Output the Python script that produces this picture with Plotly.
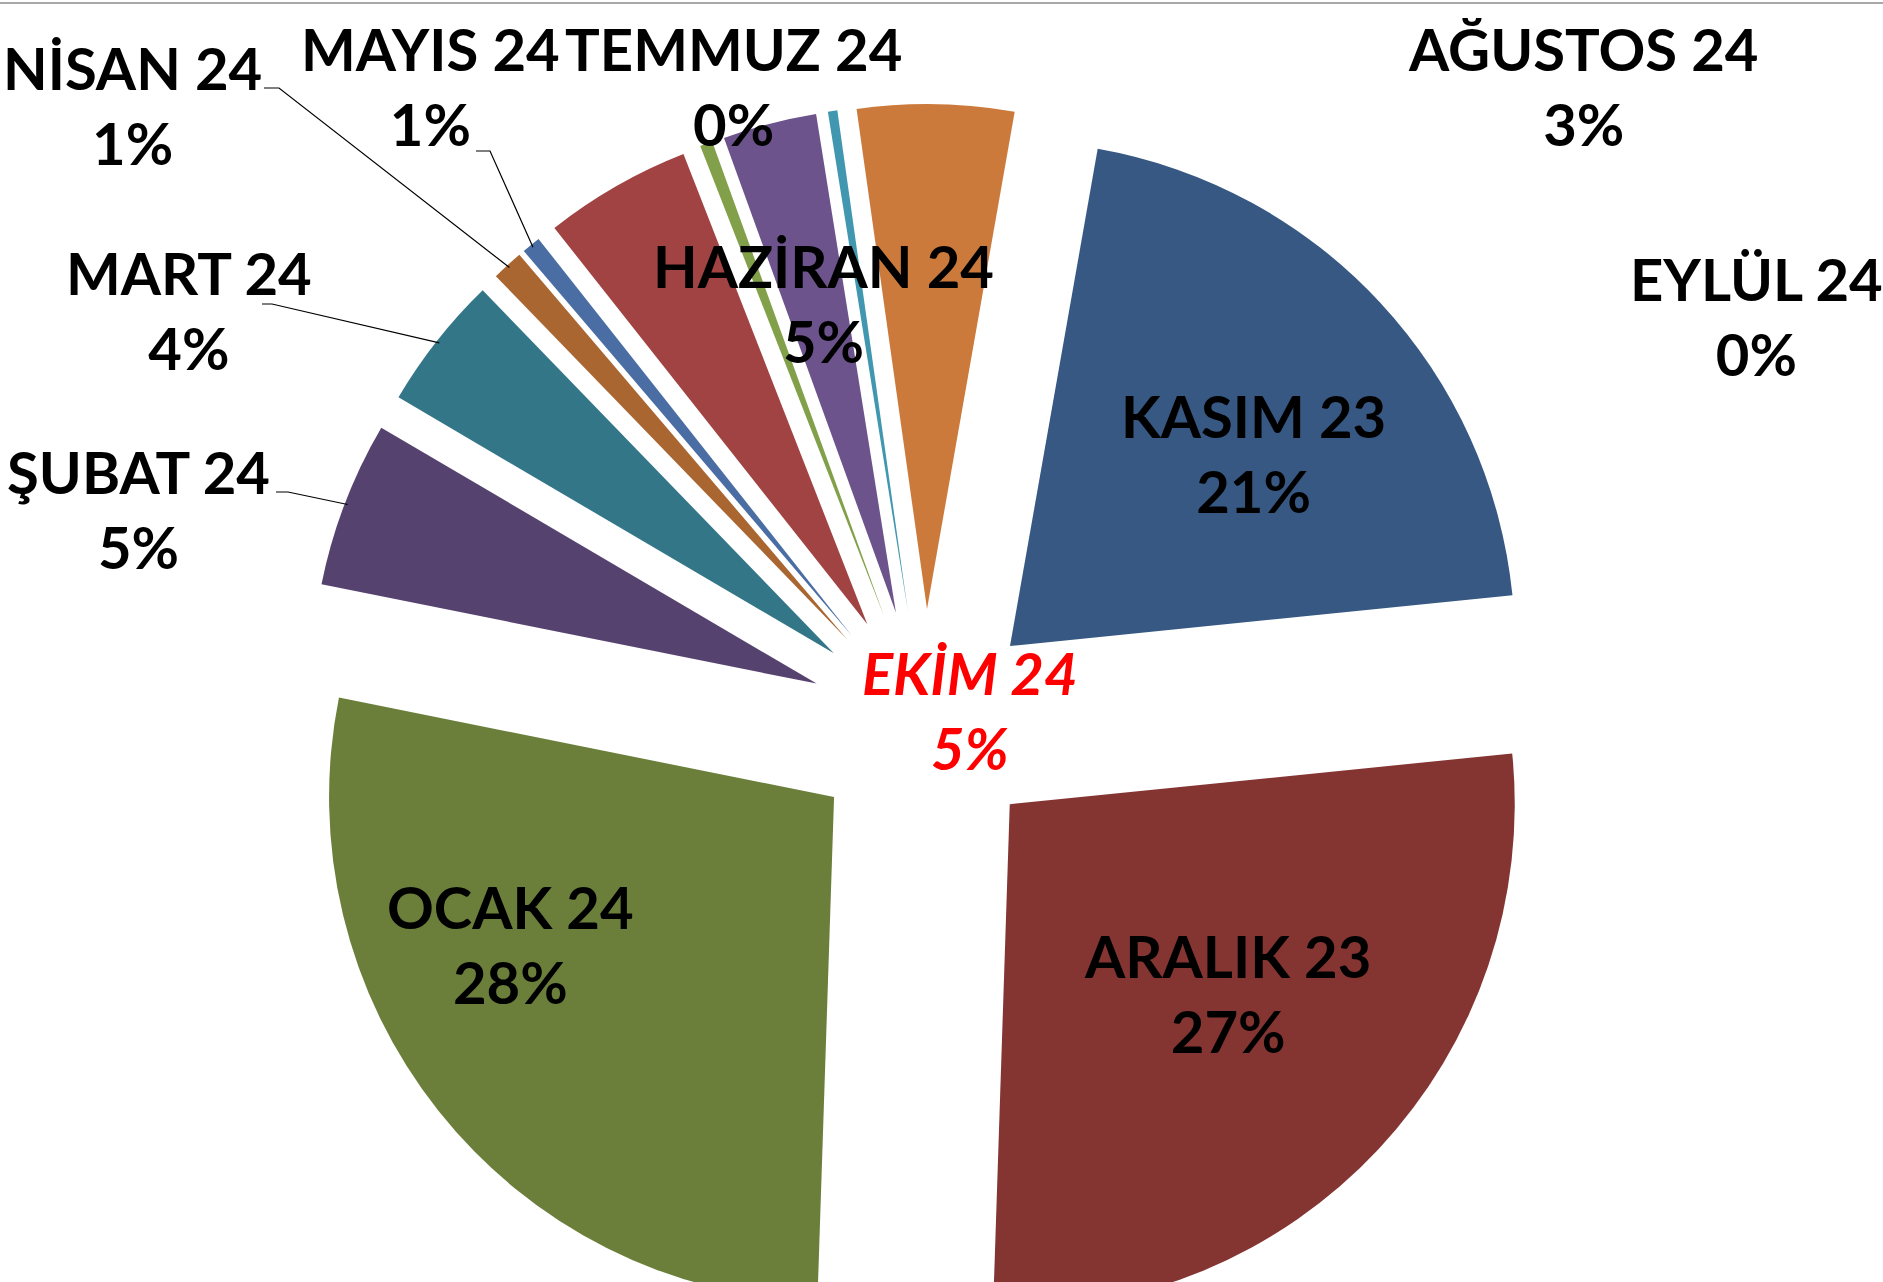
import math
import plotly.graph_objects as go

# ---------------- data ----------------
labels = ["KASIM 23", "ARALIK 23", "OCAK 24", "ŞUBAT 24", "MART 24", "NİSAN 24",
          "MAYIS 24", "HAZİRAN 24", "TEMMUZ 24", "AĞUSTOS 24", "EYLÜL 24", "EKİM 24"]
values = [20.6, 27.1, 27.6, 5.3, 4.3, 1.0, 0.6, 4.7, 0.4, 3.0, 0.3, 5.0]
colors = ["#365882", "#843532", "#6B7F3B", "#56426F", "#337688", "#AA6631",
          "#4A6EA3", "#A04342", "#82A04A", "#6C538B", "#4097AF", "#CC7A3B"]

# ---------------- layout constants (pixels) ----------------
W = 1883
CX, CY = 925, 725
RBOX = 621
PULL = 0.2297
ROT = 10
T = CY - RBOX
H = CY + RBOX
DX0, DX1 = CX - RBOX, CX + RBOX
R = RBOX / (1 + PULL)


def px(x):
    return x / W


def py(y):
    return (H - y) / (H - T)


# label centres (pixels) for each slice
label_pos = {
    "KASIM 23": (1253, 453), "ARALIK 23": (1227, 993), "OCAK 24": (510, 944),
    "ŞUBAT 24": (138, 509), "MART 24": (189, 310), "NİSAN 24": (132, 105),
    "MAYIS 24": (430, 86), "HAZİRAN 24": (823, 303), "TEMMUZ 24": (733, 86),
    "AĞUSTOS 24": (1583, 86), "EYLÜL 24": (1756, 316), "EKİM 24": (970, 710),
}
# leader line starts (pixels): (x_start, x_tick_end, y)
leaders = {
    "ŞUBAT 24": (276, 288, 492),
    "MART 24": (262, 272, 304),
    "NİSAN 24": (264, 279, 88),
    "MAYIS 24": (476, 490, 151),
}

total = sum(values)

fig = go.Figure(go.Pie(
    labels=labels, values=values, sort=False, direction="clockwise",
    rotation=ROT, pull=[PULL] * len(values),
    marker=dict(colors=colors, line=dict(width=0)),
    textinfo="none", hoverinfo="skip", showlegend=False,
    domain=dict(x=[DX0 / W, DX1 / W], y=[0, 1]),
))

annotations = []
for lab, v in zip(labels, values):
    pct = round(v / total * 100)
    x, y = label_pos[lab]
    if lab == "EKİM 24":
        f = dict(family="Lato", size=58, color="#FF0000", weight="bold", style="italic")
    else:
        f = dict(family="Lato", size=58, color="#000000", weight="bold")
    annotations.append(dict(
        x=px(x), y=py(y), xref="paper", yref="paper", showarrow=False,
        text=f"{lab}<br>{pct}%", font=f, align="center",
        xanchor="center", yanchor="middle"))

shapes = []
cum = 0.0
for lab, v in zip(labels, values):
    mid = math.radians(ROT + 360 * (cum + v / 2) / total)
    cum += v
    if lab in leaders:
        xs, xt, ys = leaders[lab]
        dist = R * (1 + PULL) - 3
        ex = CX + dist * math.sin(mid)
        ey = CY - dist * math.cos(mid)
        path = f"M {px(xs)},{py(ys)} L {px(xt)},{py(ys)} L {px(ex)},{py(ey)}"
        shapes.append(dict(type="path", path=path, xref="paper", yref="paper",
                           line=dict(color="#000000", width=1.2)))

# top window border line
shapes.append(dict(type="line", x0=0, x1=1, y0=py(3), y1=py(3), xref="paper", yref="paper",
                   line=dict(color="#A8A8A8", width=2)))

fig.update_layout(
    width=W, height=H,
    margin=dict(l=0, r=0, t=T, b=0, pad=0),
    paper_bgcolor="white", plot_bgcolor="white",
    annotations=annotations, shapes=shapes,
)

fig.write_html(
    "out.html",
    config={"displayModeBar": False},
    post_script="document.body.style.margin='0';document.body.style.overflow='hidden';"
                "document.documentElement.style.overflow='hidden';",
)
